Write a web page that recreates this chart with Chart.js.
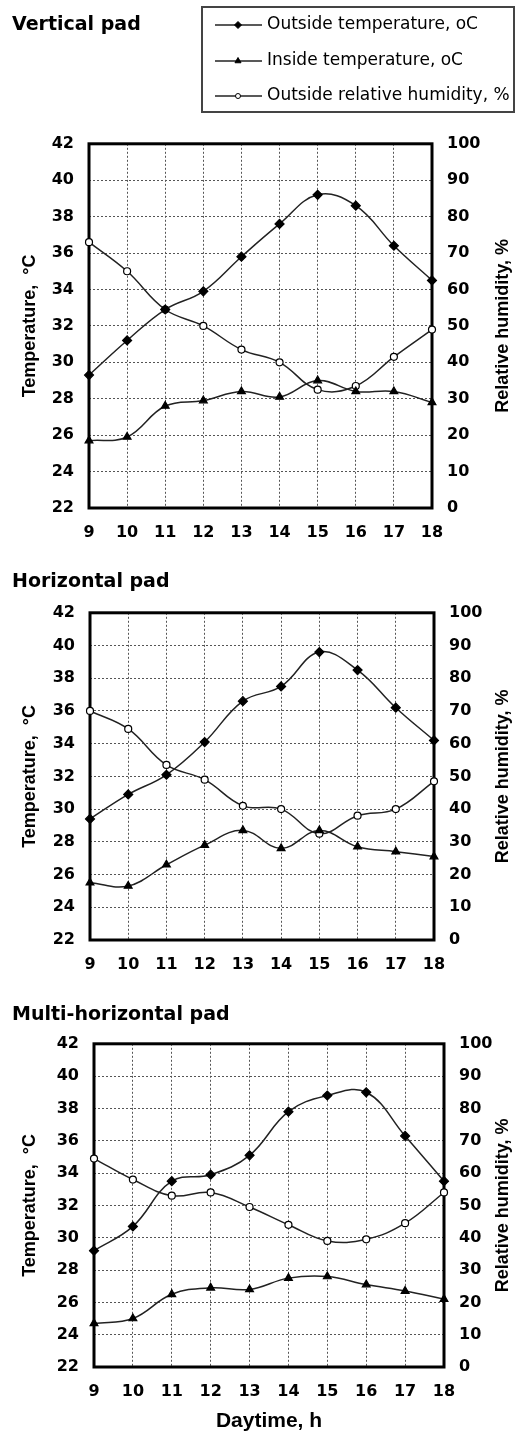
<!DOCTYPE html>
<html>
<head>
<meta charset="utf-8">
<script src="https://cdn.jsdelivr.net/npm/chart.js@4.4.1/dist/chart.umd.min.js"></script>
<style>
  html, body { margin: 0; padding: 0; background: #fff; }
  body { position: relative; width: 516px; height: 1432px; overflow: hidden; }
  canvas { position: absolute; left: 0; }
</style>
</head>
<body>
<canvas id="verticalPad" width="516" height="555" style="top:0px"></canvas>
<canvas id="horizontalPad" width="516" height="425" style="top:555px"></canvas>
<canvas id="multiPad" width="516" height="447" style="top:985px"></canvas>
<script>
// ── Data ────────────────────────────────────────────────────────────────────

const hours = ['9', '10', '11', '12', '13', '14', '15', '16', '17', '18']
const seriesLabels = [
  'Outside temperature, oC',
  'Inside temperature, oC',
  'Outside relative humidity, %',
]

const tempRange = [22, 42, 2]
const humidityRange = [0, 100, 10]

const verticalOutside = [29.3, 31.2, 32.9, 33.9, 35.8, 37.6, 39.2, 38.6, 36.4, 34.5]
const verticalInside = [25.7, 25.9, 27.6, 27.9, 28.4, 28.1, 29.0, 28.4, 28.4, 27.8]
const verticalHumidity = [73, 65, 54.5, 50, 43.5, 40, 32.5, 33.5, 41.5, 49]

const horizontalOutside = [29.4, 30.9, 32.1, 34.1, 36.6, 37.5, 39.6, 38.5, 36.2, 34.2]
const horizontalInside = [25.5, 25.3, 26.6, 27.8, 28.7, 27.6, 28.7, 27.7, 27.4, 27.1]
const horizontalHumidity = [70, 64.5, 53.5, 49, 41, 40, 32.5, 38, 40, 48.5]

const multiOutside = [29.2, 30.7, 33.5, 33.9, 35.1, 37.8, 38.8, 39.0, 36.3, 33.5]
const multiInside = [24.7, 25.0, 26.5, 26.9, 26.8, 27.5, 27.6, 27.1, 26.7, 26.2]
const multiHumidity = [64.5, 58, 53, 54, 49.5, 44, 39, 39.5, 44.5, 54]

// ── Styles ──────────────────────────────────────────────────────────────────

const LINE_COLOR = '#222'
const GRID_COLOR = '#555'
const tickFont = { family: "'DejaVu Sans'", size: 16, weight: 'bold' }
const axisTitleFont = { family: "'Liberation Sans'", size: 18, weight: 'bold' }

// ── Plugins ─────────────────────────────────────────────────────────────────

// thick black frame round the plot area, under the lines
const frame = {
  id: 'frame',
  beforeDatasetsDraw(chart) {
    const { ctx, chartArea: a } = chart
    ctx.save()
    ctx.lineWidth = 3
    ctx.strokeStyle = '#000'
    ctx.strokeRect(a.left, a.top, a.right - a.left, a.bottom - a.top)
    ctx.restore()
  },
}

// right axis title reads bottom to top, which the built-in title doesn't do
const rightTitle = {
  id: 'rightTitle',
  afterDraw(chart, args, opts) {
    const { ctx, chartArea: a } = chart
    ctx.save()
    ctx.translate(chart.width - 13, (a.top + a.bottom) / 2)
    ctx.rotate(-Math.PI / 2)
    ctx.font = `bold ${axisTitleFont.size}px ${axisTitleFont.family}`
    ctx.fillStyle = '#000'
    ctx.textAlign = 'center'
    ctx.textBaseline = 'middle'
    ctx.fillText(opts.text, 0, 0)
    ctx.restore()
  },
}

// boxed legend, line sample with the marker in the middle
const boxLegend = {
  id: 'boxLegend',
  afterDraw(chart, args, opts) {
    if (!opts.display) return
    const { ctx } = chart
    ctx.save()
    ctx.lineWidth = 2
    ctx.strokeStyle = '#444'
    ctx.strokeRect(opts.x, opts.y, opts.width, opts.height)
    chart.data.datasets.forEach((ds, i) => {
      const y = opts.rows[i]
      ctx.lineWidth = 1.5
      ctx.strokeStyle = LINE_COLOR
      ctx.beginPath()
      ctx.moveTo(opts.x + 13, y)
      ctx.lineTo(opts.x + 60, y)
      ctx.stroke()
      ctx.fillStyle = ds.pointBackgroundColor
      ctx.strokeStyle = ds.pointBorderColor
      ctx.lineWidth = 1
      Chart.helpers.drawPoint(
        ctx,
        { pointStyle: ds.pointStyle, radius: ds.pointRadius - 1, borderWidth: 1, rotation: 0 },
        opts.x + 36,
        y,
      )
      ctx.fillStyle = '#000'
      ctx.font = "17px 'DejaVu Sans'"
      ctx.textAlign = 'left'
      ctx.textBaseline = 'middle'
      ctx.fillText(ds.label, opts.x + 65, y)
    })
    ctx.restore()
  },
}

// ── Chart builder ───────────────────────────────────────────────────────────

function buildPanel(canvasId, panel) {
  const datasets = [
    {
      label: seriesLabels[0],
      data: panel.outside,
      yAxisID: 'y',
      pointStyle: 'rectRot',
      pointRadius: 4.5,
      pointBackgroundColor: '#000',
      pointBorderColor: '#000',
    },
    {
      label: seriesLabels[1],
      data: panel.inside,
      yAxisID: 'y',
      pointStyle: 'triangle',
      pointRadius: 4.5,
      pointBackgroundColor: '#000',
      pointBorderColor: '#000',
    },
    {
      label: seriesLabels[2],
      data: panel.humidity,
      yAxisID: 'y1',
      pointStyle: 'circle',
      pointRadius: 3.5,
      pointBackgroundColor: '#fff',
      pointBorderColor: '#000',
    },
  ].map((ds) => ({
    ...ds,
    borderColor: LINE_COLOR,
    borderWidth: 1.5,
    tension: 0.4,
    pointBorderWidth: 1.2,
    fill: false,
  }))

  return new Chart(document.getElementById(canvasId), {
    type: 'line',
    data: { labels: hours, datasets },
    plugins: [frame, rightTitle, boxLegend],
    options: {
      responsive: false,
      animation: false,
      events: [],
      layout: { padding: { left: 12, right: 0, top: 0, bottom: 0 } },
      plugins: {
        legend: { display: false },
        tooltip: { enabled: false },
        title: {
          display: true,
          text: panel.title,
          align: 'start',
          color: '#000',
          font: { family: "'DejaVu Sans'", size: 19, weight: 'bold', lineHeight: 1.2 },
          padding: { top: panel.titleTop, bottom: panel.titleBottom },
        },
        rightTitle: { text: 'Relative humidity, %' },
        boxLegend: panel.legend || { display: false },
      },
      scales: {
        x: {
          type: 'category',
          offset: false,
          grid: { color: GRID_COLOR, lineWidth: 1, drawTicks: false },
          border: { display: false, dash: [2, 2] },
          ticks: { autoSkip: false, maxRotation: 0, padding: 15, color: '#000', font: tickFont },
          title: {
            display: !!panel.xTitle,
            text: panel.xTitle || '',
            color: '#000',
            font: { family: "'Liberation Sans'", size: 21, weight: 'bold', lineHeight: 1 },
            padding: { top: 0, bottom: 0 },
          },
          afterFit: (s) => { s.height = panel.xHeight },
        },
        y: {
          position: 'left',
          min: tempRange[0],
          max: tempRange[1],
          grid: { color: GRID_COLOR, lineWidth: 1, drawTicks: false },
          border: { display: false, dash: [2, 2] },
          ticks: { stepSize: tempRange[2], padding: 15, color: '#000', font: tickFont },
          title: {
            display: true,
            text: 'Temperature,  °C',
            color: '#000',
            font: axisTitleFont,
            padding: { top: 7, bottom: 0 },
          },
          afterFit: (s) => { s.width = panel.left - 12 },
        },
        y1: {
          position: 'right',
          min: humidityRange[0],
          max: humidityRange[1],
          grid: { display: false, drawTicks: false },
          border: { display: false },
          ticks: { stepSize: humidityRange[2], padding: 15, color: '#000', font: tickFont },
          afterFit: (s) => { s.width = 516 - panel.right },
        },
      },
    },
  })
}

// ── Panels ──────────────────────────────────────────────────────────────────

buildPanel('verticalPad', {
  title: 'Vertical pad',
  outside: verticalOutside,
  inside: verticalInside,
  humidity: verticalHumidity,
  titleTop: 14,
  titleBottom: 107,
  xHeight: 47,
  left: 89,
  right: 432,
  legend: { display: true, x: 202, y: 7, width: 312, height: 105, rows: [25, 61, 96] },
})

buildPanel('horizontalPad', {
  title: 'Horizontal pad',
  outside: horizontalOutside,
  inside: horizontalInside,
  humidity: horizontalHumidity,
  titleTop: 16,
  titleBottom: 19,
  xHeight: 40,
  left: 90,
  right: 434,
})

buildPanel('multiPad', {
  title: 'Multi-horizontal pad',
  outside: multiOutside,
  inside: multiInside,
  humidity: multiHumidity,
  titleTop: 19,
  titleBottom: 17,
  xHeight: 65,
  left: 94,
  right: 444,
  xTitle: 'Daytime, h',
})
</script>
</body>
</html>
